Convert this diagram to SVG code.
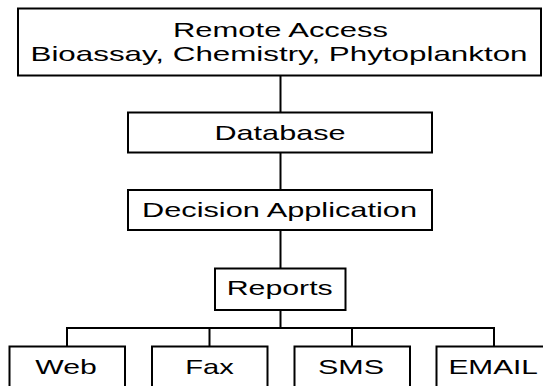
<svg xmlns="http://www.w3.org/2000/svg" width="543" height="386" viewBox="0 0 543 386">
<style>
.box{fill:#fff;stroke:#000;stroke-width:2}
.ln{fill:none;stroke:#000;stroke-width:2}
text{font-family:"Liberation Sans",Arial,sans-serif;font-size:21px;fill:#000;text-anchor:middle}
</style>
<rect width="543" height="386" fill="#fff"/>
<g id="connectors">
<line class="ln" x1="280.5" y1="76" x2="280.5" y2="112"/>
<line class="ln" x1="280.5" y1="153" x2="280.5" y2="190"/>
<line class="ln" x1="280.5" y1="230" x2="280.5" y2="268"/>
<line class="ln" x1="280.5" y1="310" x2="280.5" y2="328"/>
<polyline class="ln" points="67,346 67,328 494,328 494,346"/>
<line class="ln" x1="209.5" y1="328" x2="209.5" y2="346"/>
<line class="ln" x1="352" y1="328" x2="352" y2="346"/>
</g>
<g id="remote">
<rect class="box" x="18" y="8.5" width="523" height="67"/>
<text x="280.5" y="36.5" textLength="215" lengthAdjust="spacingAndGlyphs">Remote Access</text>
<text x="279" y="61" textLength="497" lengthAdjust="spacingAndGlyphs">Bioassay, Chemistry, Phytoplankton</text>
</g>
<g id="database">
<rect class="box" x="128" y="112.5" width="304" height="40"/>
<text x="280" y="139.5" textLength="131" lengthAdjust="spacingAndGlyphs">Database</text>
</g>
<g id="decision">
<rect class="box" x="128" y="190" width="304" height="40"/>
<text x="279.5" y="217" textLength="275" lengthAdjust="spacingAndGlyphs">Decision Application</text>
</g>
<g id="reports">
<rect class="box" x="215" y="268.5" width="130.5" height="41.5"/>
<text x="279.7" y="295" textLength="106" lengthAdjust="spacingAndGlyphs">Reports</text>
</g>
<g id="web">
<rect class="box" x="9.5" y="346.5" width="115.5" height="50"/>
<text x="66" y="374" textLength="61.5" lengthAdjust="spacingAndGlyphs">Web</text>
</g>
<g id="fax">
<rect class="box" x="152" y="346.5" width="115.5" height="50"/>
<text x="209.5" y="374" textLength="48.5" lengthAdjust="spacingAndGlyphs">Fax</text>
</g>
<g id="sms">
<rect class="box" x="294.5" y="346.5" width="115.5" height="50"/>
<text x="351" y="374" textLength="66" lengthAdjust="spacingAndGlyphs">SMS</text>
</g>
<g id="email">
<rect class="box" x="436.5" y="346.5" width="115.5" height="50"/>
<text x="493.2" y="374" textLength="89.5" lengthAdjust="spacingAndGlyphs">EMAIL</text>
</g>
</svg>
